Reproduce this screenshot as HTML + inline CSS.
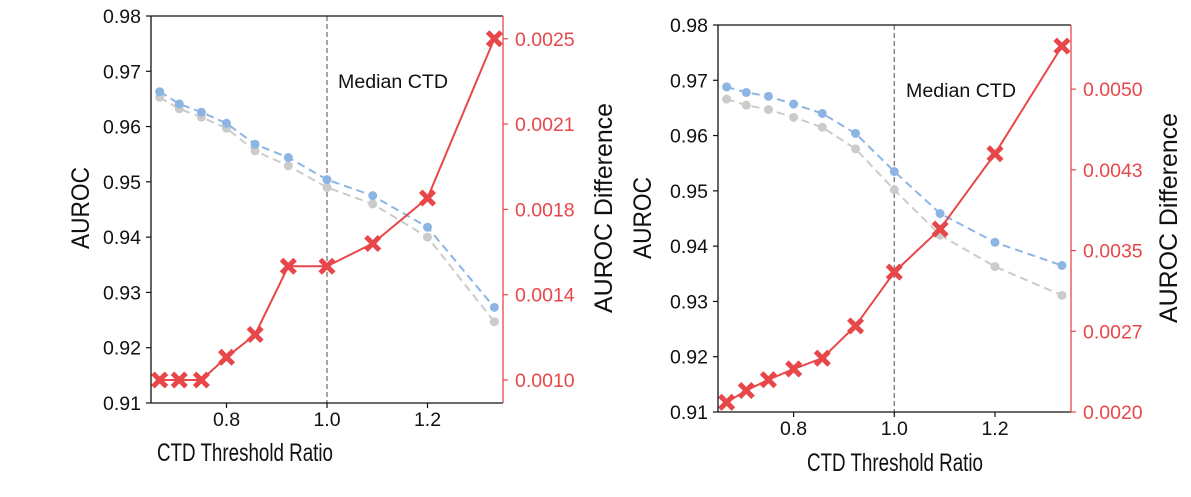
<!DOCTYPE html>
<html><head><meta charset="utf-8"><style>
html,body{margin:0;padding:0;background:#fff;}
svg text{font-family:"Liberation Sans",sans-serif;}
</style></head><body>
<svg id="chart" width="1191" height="492" viewBox="0 0 1191 492" xmlns="http://www.w3.org/2000/svg">
<rect x="0" y="0" width="1191" height="492" fill="#fff"/>
</svg>
<script>
const ratios = [0.667, 0.706, 0.75, 0.8, 0.857, 0.923, 1.0, 1.091, 1.2, 1.333];
const leftBlue = [0.9663, 0.9641, 0.9626, 0.9606, 0.9568, 0.9544, 0.9504, 0.9475, 0.9418, 0.9273];
const leftGray = [0.9653, 0.9632, 0.9617, 0.9597, 0.9556, 0.9529, 0.9490, 0.9460, 0.9400, 0.9247];
const leftDiff = [0.0010, 0.0010, 0.0010, 0.0011, 0.0012, 0.0015, 0.0015, 0.0016, 0.0018, 0.0025];
const rightBlue = [0.9688, 0.9678, 0.9671, 0.9657, 0.9640, 0.9604, 0.9535, 0.9459, 0.9407, 0.9365];
const rightGray = [0.9666, 0.9655, 0.9647, 0.9633, 0.9615, 0.9576, 0.9502, 0.9420, 0.9363, 0.9311];
const rightDiff = [0.00209, 0.00220, 0.00230, 0.00240, 0.00250, 0.00280, 0.00330, 0.00370, 0.00440, 0.00540];
const xTicks = [0.8, 1.0, 1.2];
const xTickLabels = ["0.8", "1.0", "1.2"];
const yTicks = [0.91, 0.92, 0.93, 0.94, 0.95, 0.96, 0.97, 0.98];
const yTickLabels = ["0.91", "0.92", "0.93", "0.94", "0.95", "0.96", "0.97", "0.98"];
const leftDiffTicks = [0.0010, 0.001375, 0.00175, 0.002125, 0.0025];
const leftDiffLabels = ["0.0010", "0.0014", "0.0018", "0.0021", "0.0025"];
const rightDiffTicks = [0.0020, 0.00275, 0.0035, 0.00425, 0.0050];
const rightDiffLabels = ["0.0020", "0.0027", "0.0035", "0.0043", "0.0050"];

const NS = "http://www.w3.org/2000/svg";
const svg = document.getElementById("chart");
function el(tag, attrs, parent, text) {
  const e = document.createElementNS(NS, tag);
  for (const k in attrs) e.setAttribute(k, attrs[k]);
  if (text !== undefined) e.textContent = text;
  (parent || svg).appendChild(e);
  return e;
}
const RED = "#e8474a", BLUE = "#8db5e3", GRAY = "#cbcbcb";
const TF = 19.5;

function panel(cfg, name) {
  const g = el("g", {});
  
  
  const {L, R, T, B, x1px, yLo, yHi, dLo, dHi} = cfg;
  const xs = v => x1px + (v - 1) * (cfg.x12px - x1px) / 0.2;
  const ys = v => B - (v - yLo) / (yHi - yLo) * (B - T);
  const ds = v => B - (v - dLo) / (dHi - dLo) * (B - T);
  const ml = el("line", {x1: xs(1), x2: xs(1), y1: T, y2: B, stroke: "#777", "stroke-width": 1.3, "stroke-dasharray": "5,3"}, g);
  
  
  const mt = el("text", {x: cfg.medX, y: cfg.medY, "font-size": 19, fill: "#111", textLength: 110, lengthAdjust: "spacingAndGlyphs"}, g, "Median CTD");
  
  
  function series(vals, scale, color, nm, dashed, marker) {
    const sg = el("g", {}, g);
    
    
    const pts = vals.map((v, i) => xs(ratios[i]).toFixed(1) + "," + scale(v).toFixed(1)).join(" ");
    el("polyline", {points: pts, fill: "none", stroke: color, "stroke-width": 2, "stroke-dasharray": dashed ? "8,5" : "none"}, sg);
    vals.forEach((v, i) => {
      const cx = xs(ratios[i]), cy = scale(v);
      let m;
      if (marker === "x") {
        m = el("path", {d: `M${cx-5},${cy-5}L${cx+5},${cy+5}M${cx-5},${cy+5}L${cx+5},${cy-5}`, stroke: color, "stroke-width": 5, "stroke-linecap": "square"}, sg);
      } else {
        m = el("circle", {cx: cx, cy: cy, r: 4.5, fill: color}, sg);
      }
      
      
    });
  }
  series(cfg.gray, ys, GRAY, "baseline-auroc-series", true, "o");
  series(cfg.blue, ys, BLUE, "auroc-series", true, "o");
  series(cfg.diff, ds, RED, "auroc-difference-series", false, "x");
  el("line", {x1: L, x2: R, y1: T, y2: T, stroke: "#111", "stroke-width": 1.3}, g);
  el("line", {x1: L, x2: R, y1: B, y2: B, stroke: "#111", "stroke-width": 1.3}, g);
  el("line", {x1: L, x2: L, y1: T, y2: B, stroke: "#111", "stroke-width": 1.3}, g);
  el("line", {x1: R, x2: R, y1: T, y2: B, stroke: RED, "stroke-width": 1.3}, g);
  yTicks.forEach((v, i) => {
    const y = ys(v);
    el("line", {x1: L - 5, x2: L, y1: y, y2: y, stroke: "#111", "stroke-width": 1.2}, g);
    const t = el("text", {x: L - 10, y: y + 7, "text-anchor": "end", "font-size": TF, fill: "#111"}, g, yTickLabels[i]);
    
    
  });
  cfg.dTicks.forEach((v, i) => {
    const y = ds(v);
    el("line", {x1: R, x2: R + 5, y1: y, y2: y, stroke: RED, "stroke-width": 1.2}, g);
    const t = el("text", {x: R + 12, y: y + 7, "font-size": TF, fill: RED}, g, cfg.dLabels[i]);
    
    
  });
  xTicks.forEach((v, i) => {
    const x = xs(v);
    el("line", {x1: x, x2: x, y1: B, y2: B + 5, stroke: "#111", "stroke-width": 1.2}, g);
    const t = el("text", {x: x, y: B + 23, "text-anchor": "middle", "font-size": TF, fill: "#111"}, g, xTickLabels[i]);
    
    
  });
  const xt = el("text", {x: cfg.xTitleX, y: cfg.xTitleY, "text-anchor": "middle", "font-size": 25, fill: "#111", textLength: 176, lengthAdjust: "spacingAndGlyphs"}, g, "CTD Threshold Ratio");
  
  
  const yt = el("text", {x: 0, y: 0, transform: `translate(${cfg.yTitleX},${cfg.yTitleY}) rotate(-90)`, "text-anchor": "middle", "font-size": 25, fill: "#111", textLength: 82, lengthAdjust: "spacingAndGlyphs"}, g, "AUROC");
  
  
  const rt = el("text", {x: 0, y: 0, transform: `translate(${cfg.rTitleX},${cfg.rTitleY}) rotate(-90)`, "text-anchor": "middle", "font-size": 25, fill: "#111", textLength: 210, lengthAdjust: "spacingAndGlyphs"}, g, "AUROC Difference");
  
  
}

panel({L: 151, R: 503, T: 16, B: 403, x1px: 327, x12px: 427.5, yLo: 0.91, yHi: 0.98, dLo: 0.000899, dHi: 0.0026,
  blue: leftBlue, gray: leftGray, diff: leftDiff, dTicks: leftDiffTicks, dLabels: leftDiffLabels,
  medX: 338, medY: 88, xTitleX: 245, xTitleY: 461, yTitleX: 89, yTitleY: 208, rTitleX: 612, rTitleY: 208}, "left-panel");
panel({L: 718, R: 1071, T: 25, B: 412, x1px: 894.3, x12px: 995, yLo: 0.91, yHi: 0.98, dLo: 0.0020, dHi: 0.005596,
  blue: rightBlue, gray: rightGray, diff: rightDiff, dTicks: rightDiffTicks, dLabels: rightDiffLabels,
  medX: 906, medY: 97, xTitleX: 895, xTitleY: 471, yTitleX: 651, yTitleY: 218, rTitleX: 1177, rTitleY: 218}, "right-panel");
</script>
</body></html>
